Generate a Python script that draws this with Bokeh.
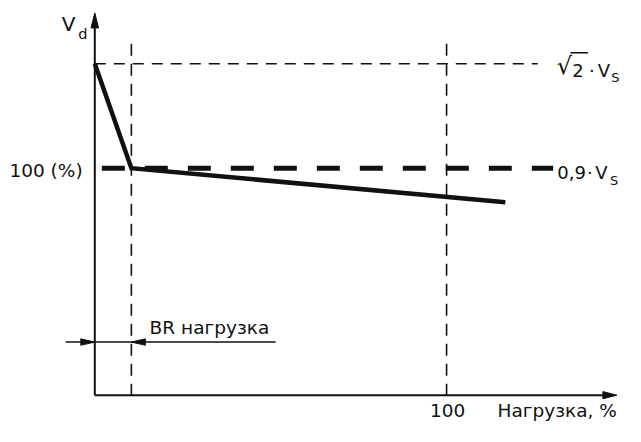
from bokeh.plotting import figure
from bokeh.models import Range1d
from bokeh.core.properties import value
from bokeh.embed import file_html
from bokeh.resources import INLINE

# ---- data (load in %, voltage in % of nominal) ----
load = [0, 10.4, 116.7]
voltage = [146, 100, 85]
peak_level = 146        # sqrt(2)*Vs
nominal_level = 100     # 0.9*Vs
br_load = 10.4          # BR load
rated_load = 100        # rated load
tick_values = [100]
tick_labels = ["100"]
y_tick_label = "100 (%)"
x_title = "Нагрузка, %"
br_label = "BR нагрузка"

# ---- layout ----
W, H = 625, 426
KX, KY = W / 641, H / 442          # scale of the drawing
sx = 3.608 * KX                    # px per load unit
sy = 2.355 * KY                    # px per voltage unit
ox = 96.7 * KX                     # px position of x = 0
oy = 409.5 * KY                    # px position of y = 0
x0, x1 = -ox / sx, (W - ox) / sx
y0, y1 = -(H - oy) / sy, oy / sy

x_tip = 148.4
y_tip = 168.4
y_dash_top = 154.8
peak_dash_end = 125.9
nom_dash_start = 2.0
nom_dash_end = 130.3
y_dim = 23.4
dim_left = -8.3
dim_right = 51.4

FONT = value("DejaVu Sans")
K = "#111111"

p = figure(width=W, height=H, x_range=Range1d(x0, x1), y_range=Range1d(y0, y1),
           output_backend="svg", toolbar_location=None, min_border=0,
           x_axis_type=None, y_axis_type=None, outline_line_color=None)
p.grid.visible = False
p.background_fill_color = "white"
p.border_fill_color = "white"

# axes
p.line([0, 0], [0, y_tip - 12 / sy], line_width=2, color=K)
p.line([0, x_tip - 12 / sx], [0, 0], line_width=2, color=K)


def head(tx, ty, direction, length, half):
    if direction == "up":
        xs = [tx, tx - half / sx, tx + half / sx]
        ys = [ty, ty - length / sy, ty - length / sy]
    elif direction == "right":
        xs = [tx, tx - length / sx, tx - length / sx]
        ys = [ty, ty + half / sy, ty - half / sy]
    else:  # left
        xs = [tx, tx + length / sx, tx + length / sx]
        ys = [ty, ty + half / sy, ty - half / sy]
    return xs, ys


hx, hy = [], []
for tx, ty, d, ln, hf in [(0, y_tip, "up", 15, 3.8), (x_tip, 0, "right", 14, 3.6),
                          (0, y_dim, "right", 14, 3.2), (br_load, y_dim, "left", 14, 3.2)]:
    a, b = head(tx, ty, d, ln, hf)
    hx.append(a)
    hy.append(b)
p.patches(hx, hy, fill_color=K, line_color=K, line_width=1)

# dashed reference lines
p.line([0, peak_dash_end], [peak_level, peak_level], line_width=1.6,
       line_dash="11 8", color=K)
p.line([nom_dash_start, nom_dash_end], [nominal_level, nominal_level],
       line_width=5, line_dash="23 20", color=K)
for xv in [br_load, rated_load]:
    p.line([xv, xv], [y_dash_top, 0], line_width=1.6, line_dash="12 8", color=K)

# dimension line for BR load
p.line([dim_left, dim_right], [y_dim, y_dim], line_width=1.5, color=K)

# characteristic curve
p.line(load, voltage, line_width=4.5, color=K, line_join="miter")


def label(x, y, text, dx=0, dy=0, size=18, align="left"):
    # dx, dy are pixels of the original drawing; dy is the baseline position
    p.text(x=[x], y=[y], text=[text], x_offset=dx * KX,
           y_offset=dy * KY - 0.236 * size,
           text_font=FONT, text_font_size=f"{size}px", text_color=K,
           text_align=align, text_baseline="alphabetic")


# y-axis label Vd
label(0, y_tip, "V", dx=-34, dy=16, size=20)
label(0, y_tip, "d", dx=-17, dy=25, size=14.5)

# y tick label
label(0, nominal_level, y_tick_label, dx=-12.5, dy=7, size=18.5, align="right")

# right labels: sqrt(2)*Vs
label(rated_load, peak_level, "√", dx=113, dy=8.3, size=24)
label(rated_load, peak_level, "2", dx=129, dy=11.3, size=18)
label(rated_load, peak_level, "·", dx=146, dy=11.3, size=18)
label(rated_load, peak_level, "V", dx=155, dy=11.3, size=18)
label(rated_load, peak_level, "S", dx=169, dy=17.3, size=13)
p.line([rated_load + 127 * KX / sx, rated_load + 145 * KX / sx],
       [peak_level + 11.5 * KY / sy, peak_level + 11.5 * KY / sy],
       line_width=1.4, color=K)

# 0,9*Vs
label(rated_load, nominal_level, "0,9", dx=113.5, dy=9, size=18)
label(rated_load, nominal_level, "·", dx=144, dy=9, size=18)
label(rated_load, nominal_level, "V", dx=152.5, dy=9, size=18)
label(rated_load, nominal_level, "S", dx=167.5, dy=16, size=13)

# x tick label and title
for tv, tl in zip(tick_values, tick_labels):
    label(tv, 0, tl, dx=1, dy=20.5, size=18.5, align="center")
label(x_tip, 0, x_title, dx=0, dy=20.5, size=18.5, align="right")

# BR label
label(br_load, y_dim, br_label, dx=18.7, dy=-10.3, size=18.5)

open("out.html", "w").write(file_html(p, INLINE))
